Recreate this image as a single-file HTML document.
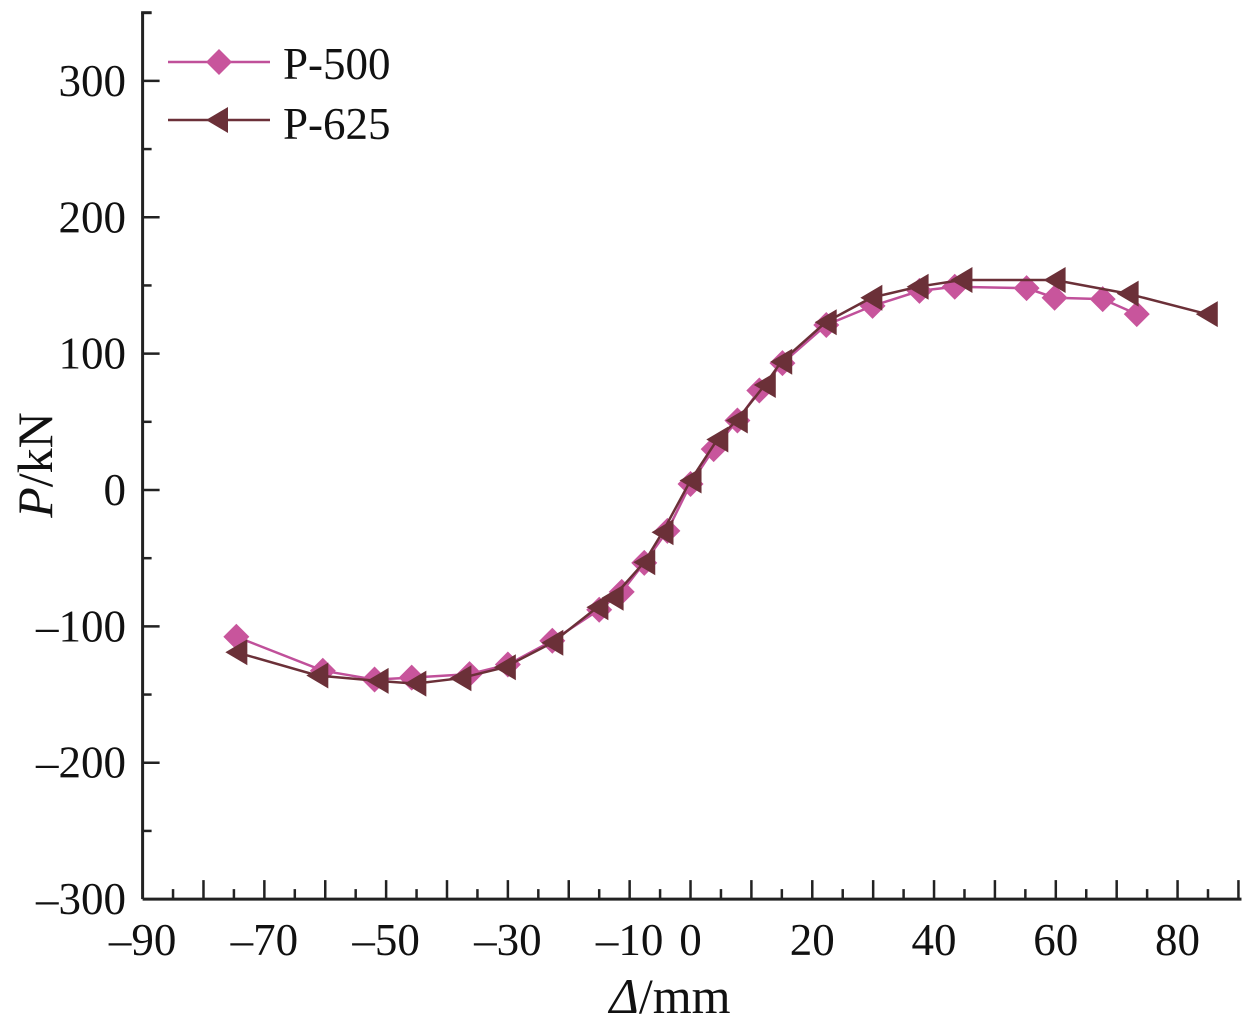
<!DOCTYPE html>
<html><head><meta charset="utf-8"><style>
html,body{margin:0;padding:0;background:#fff;}
svg{display:block;font-family:"Liberation Serif",serif;}
</style></head><body>
<svg id="chart" width="1253" height="1021" xmlns="http://www.w3.org/2000/svg">
<g id="axes"></g>
<g id="series"></g>
<g id="legend">
  <line x1="168" y1="62" x2="270" y2="62" stroke="#c0509a" stroke-width="2.5"/>
  <polygon points="219,49 232,62 219,75 206,62" fill="#c8559c"/>
  <text x="283" y="79" font-size="45" fill="#111">P-500</text>
  <line x1="168" y1="120" x2="270" y2="120" stroke="#6b3038" stroke-width="2.5"/>
  <polygon points="206,120 228,107 228,133" fill="#6b3038"/>
  <text x="283" y="139" font-size="45" fill="#111">P-625</text>
</g>
<text x="670" y="1013" font-size="50" text-anchor="middle" fill="#111"><tspan font-style="italic">Δ</tspan>/mm</text>
<text transform="translate(52,465) rotate(-90)" font-size="50" text-anchor="middle" fill="#111"><tspan font-style="italic">P</tspan>/kN</text>
</svg>
<script>
const xTickLabels = [-90,-70,-50,-30,-10,0,20,40,60,80];
const yTickLabels = [-300,-200,-100,0,100,200,300];
const p500X = [-74.6,-60.4,-51.9,-45.8,-36.3,-30,-22.7,-15,-11.3,-7.6,-3.8,0,3.8,7.7,11.3,15.1,22.3,29.9,37.6,43.4,55.2,59.8,67.7,73.3];
const p500Y = [-107.6,-132.5,-139,-137.6,-135,-128,-110.5,-87.8,-74.7,-53.4,-30,4.4,30,51,73,93,121,135,146,149,148,141,140,129];
const p625X = [-74.6,-61.3,-51.4,-45.2,-37.8,-30.5,-22.7,-15.3,-12.8,-7.6,-4.6,0,4.4,7.6,12.2,14.9,22.2,29.7,37.3,44.5,59.8,71.8,84.8];
const p625Y = [-119,-136,-140,-142,-138,-130,-112,-86,-79,-53,-31,7,37,51,77,94,123,141,149,154,154,144,129];

const NS = "http://www.w3.org/2000/svg";
const X0 = 142.6, XS = 6.088, Y0 = 490, YS = 1.3637;
const sx = v => X0 + (v + 90) * XS;
const sy = v => Y0 - v * YS;
function mk(tag, attrs, parent){const e=document.createElementNS(NS,tag);for(const k in attrs)e.setAttribute(k,attrs[k]);parent.appendChild(e);return e;}
const axes = document.getElementById('axes');
const ser = document.getElementById('series');

let xl = mk('line',{x1:sx(-90),y1:sy(-300),x2:sx(90.5),y2:sy(-300),stroke:'#222','stroke-width':3},axes);


let yl = mk('line',{x1:sx(-90),y1:sy(-300),x2:sx(-90),y2:sy(350),stroke:'#222','stroke-width':3},axes);


mk('line',{x1:sx(-90)-1.5,y1:sy(350),x2:sx(-90)+9,y2:sy(350),stroke:'#222','stroke-width':3},axes);

for(let v=-85; v<=90; v+=5){
  const major = v%10===0;
  const t = mk('line',{x1:sx(v),y1:sy(-300),x2:sx(v),y2:sy(-300)-(major?19:10),stroke:'#222','stroke-width':2.5},axes);
  
  
}
for(let v=-250; v<=350; v+=50){
  const major = v%100===0;
  const t = mk('line',{x1:sx(-90),y1:sy(v),x2:sx(-90)+(major?17:9),y2:sy(v),stroke:'#222','stroke-width':2.5},axes);
  
  
}
xTickLabels.forEach(v=>{
  const t = mk('text',{x:sx(v),y:955,'font-size':45,'text-anchor':'middle',fill:'#111'},axes);
  t.textContent = v<0 ? '\u2013'+Math.abs(v) : String(v);
  
  
});
yTickLabels.forEach(v=>{
  const t = mk('text',{x:126,y:sy(v)+15,'font-size':45,'text-anchor':'end',fill:'#111'},axes);
  t.textContent = v<0 ? '\u2013'+Math.abs(v) : String(v);
  
  
});

function series(xs, ys, color, mcolor, kind, name){
  const g = mk('g',{},ser);
  
  
  const pts = xs.map((x,i)=>sx(x)+','+sy(ys[i])).join(' ');
  const pl = mk('polyline',{points:pts,fill:'none',stroke:color,'stroke-width':2.5},g);
  
  
  xs.forEach((x,i)=>{
    const cx=sx(x), cy=sy(ys[i]);
    let p;
    if(kind==='diamond') p = mk('polygon',{points:`${cx},${cy-13} ${cx+13},${cy} ${cx},${cy+13} ${cx-13},${cy}`,fill:mcolor},g);
    else p = mk('polygon',{points:`${cx-11},${cy} ${cx+11},${cy-13} ${cx+11},${cy+13}`,fill:mcolor},g);
    
    
  });
}
series(p500X,p500Y,'#c0509a','#c8559c','diamond','series-p500');
series(p625X,p625Y,'#6b3038','#6b3038','triangle','series-p625');
</script>
</body></html>
